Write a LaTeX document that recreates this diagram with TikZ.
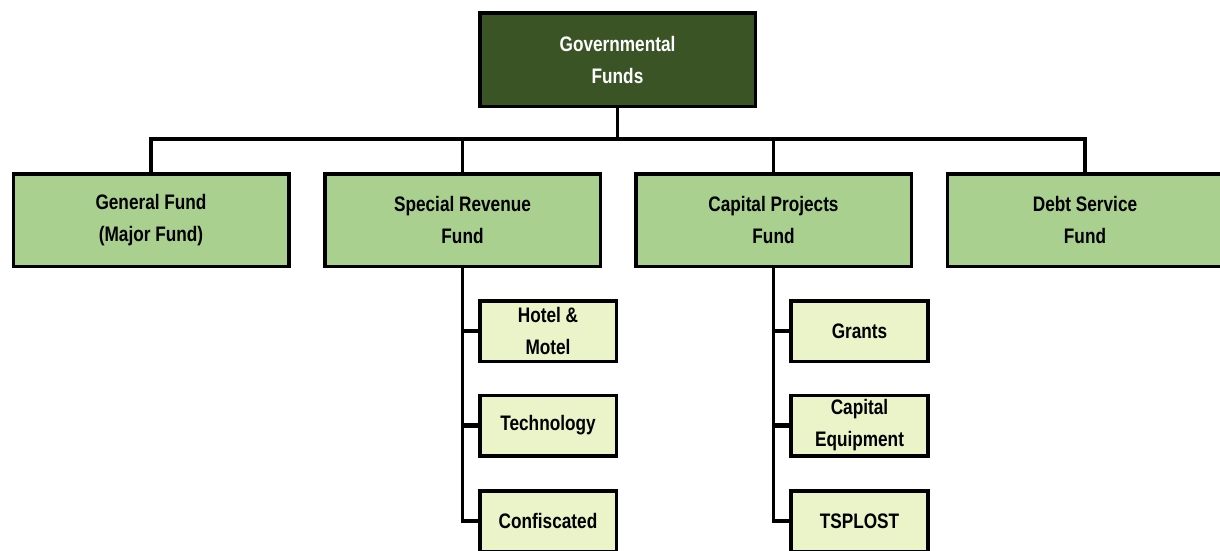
\documentclass[tikz,border=0pt]{standalone}
\usepackage{fontspec}
\newfontfamily\narrowsans{Liberation Sans}[FakeStretch=0.82]
\definecolor{darkgreen}{RGB}{58,84,37}
\definecolor{midgreen}{RGB}{169,208,142}
\definecolor{palegreen}{RGB}{235,243,200}
\tikzset{
  box/.style={draw=black, line width=3.5pt, rectangle, inner sep=0pt, align=center,
    font=\narrowsans\bfseries\fontsize{21}{32}\selectfont},
  topbox/.style={box, fill=darkgreen, text=white, minimum width=275.5pt, minimum height=93.5pt},
  fundbox/.style={box, fill=midgreen, minimum width=275.5pt, minimum height=92.5pt},
  subbox/.style={box, fill=palegreen, minimum width=137pt, minimum height=60.5pt},
  link/.style={draw=black, line width=3.5pt},
  spine/.style={draw=black, line width=3pt},
  stub/.style={draw=black, line width=4.5pt},
}
\begin{document}
\begin{tikzpicture}[x=1pt,y=-1pt]
\useasboundingbox (0,0) rectangle (1220,550);
\node[topbox] (gov) at (617.5,59.5) {Governmental\\Funds};
\node[fundbox] (gf) at (151,220) {General Fund\\(Major Fund)};
\node[fundbox] (sr) at (462.5,220) {Special Revenue\\Fund};
\node[fundbox] (cp) at (773.5,220) {Capital Projects\\Fund};
\node[fundbox] (ds) at (1085,220) {Debt Service\\Fund};
\coordinate (bus) at (617.5,139);
\draw[link] (gov.south) -- (bus);
\draw[link] (gf.north) |- (bus) -| (ds.north);
\draw[link] (sr.north) -- (sr.north |- bus);
\draw[link] (cp.north) -- (cp.north |- bus);
% special revenue children
\node[subbox, minimum width=136.5pt] (hm) at (548,331) {Hotel \&\\Motel};
\node[subbox, minimum width=136.5pt] (tech) at (548,425.5) {Technology};
\node[subbox, minimum width=136.5pt] (conf) at (548,521) {Confiscated};
\draw[spine] (sr.south) -- (sr.south |- conf.west);
\draw[stub] ([xshift=-1.5pt]sr.south |- hm.west) -- (hm.west);
\draw[stub] ([xshift=-1.5pt]sr.south |- tech.west) -- (tech.west);
\draw[stub] ([xshift=-1.5pt]sr.south |- conf.west) -- (conf.west);
% capital projects children
\node[subbox] (gr) at (859.5,331) {Grants};
\node[subbox] (ce) at (859.5,425.5) {Capital\\Equipment};
\node[subbox] (ts) at (859.5,521) {TSPLOST};
\draw[spine] (cp.south) -- (cp.south |- ts.west);
\draw[stub] ([xshift=-1.5pt]cp.south |- gr.west) -- (gr.west);
\draw[stub] ([xshift=-1.5pt]cp.south |- ce.west) -- (ce.west);
\draw[stub] ([xshift=-1.5pt]cp.south |- ts.west) -- (ts.west);
\end{tikzpicture}
\end{document}
